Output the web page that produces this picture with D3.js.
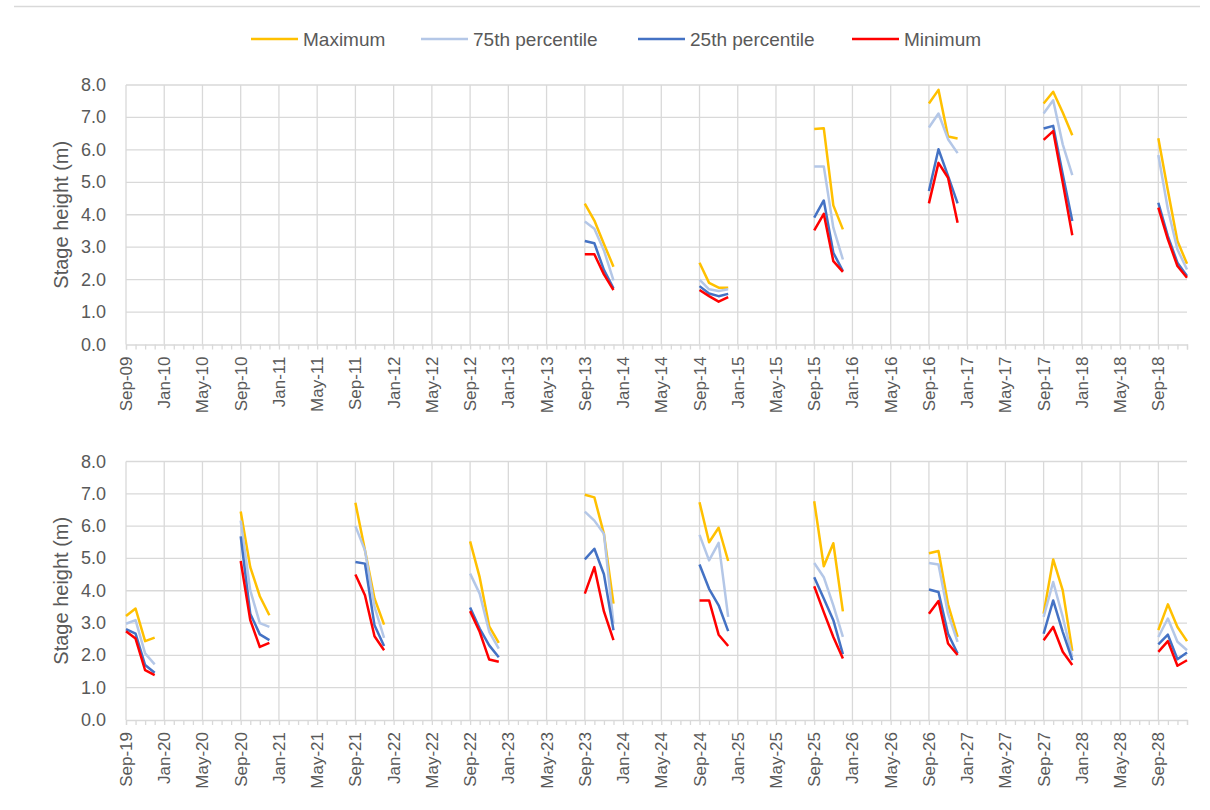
<!DOCTYPE html>
<html>
<head>
<meta charset="utf-8">
<script src="https://cdn.jsdelivr.net/npm/d3@7"></script>
<style>
  body { margin: 0; background: #fff; }
  text { font-family: "Liberation Sans", Arial, sans-serif; fill: #595959; }
</style>
</head>
<body>
<div class="flex-container"></div>
<script>
var width = 1210;
var height = 810;

// season start years, each season has Sep, Oct, Nov, Dec values
var seasons = [2013, 2014, 2015, 2016, 2017, 2018, 2019, 2020,
               2021, 2022, 2023, 2024, 2025, 2026, 2027, 2028];

var maximum = [
  [4.34, 3.82, 3.10, 2.40], [2.52, 1.90, 1.75, 1.75], [6.64, 6.67, 4.29, 3.55],
  [7.43, 7.85, 6.41, 6.35], [7.43, 7.79, 7.15, 6.45], [6.36, 4.75, 3.19, 2.49],
  [3.22, 3.45, 2.44, 2.55], [6.45, 4.73, 3.83, 3.24], [6.72, 5.25, 3.76, 2.95],
  [5.53, 4.42, 2.90, 2.39], [6.97, 6.89, 5.76, 3.60], [6.74, 5.50, 5.95, 4.92],
  [6.77, 4.76, 5.47, 3.36], [5.16, 5.23, 3.58, 2.57], [3.29, 4.97, 4.01, 2.14],
  [2.78, 3.58, 2.88, 2.44]
];

var percentile75 = [
  [3.79, 3.57, 2.90, 1.98], [2.00, 1.70, 1.65, 1.70], [5.49, 5.49, 3.60, 2.62],
  [6.69, 7.12, 6.33, 5.90], [7.12, 7.53, 6.17, 5.22], [5.84, 4.17, 2.93, 2.31],
  [2.98, 3.09, 2.06, 1.72], [6.17, 4.01, 3.00, 2.88], [6.00, 5.25, 3.50, 2.54],
  [4.53, 3.91, 2.73, 2.21], [6.45, 6.17, 5.76, 2.98], [5.73, 4.94, 5.48, 3.19],
  [4.86, 4.42, 3.55, 2.57], [4.86, 4.81, 3.29, 2.42], [3.19, 4.27, 3.19, 1.95],
  [2.57, 3.14, 2.42, 2.16]
];

var percentile25 = [
  [3.19, 3.12, 2.30, 1.73], [1.80, 1.57, 1.49, 1.56], [3.91, 4.44, 2.83, 2.26],
  [4.73, 6.02, 5.20, 4.35], [6.66, 6.74, 5.25, 3.81], [4.37, 3.34, 2.52, 2.11],
  [2.81, 2.67, 1.70, 1.46], [5.68, 3.29, 2.65, 2.47], [4.89, 4.84, 2.93, 2.29],
  [3.48, 2.83, 2.31, 1.94], [4.97, 5.30, 4.51, 2.78], [4.81, 4.06, 3.55, 2.75],
  [4.42, 3.76, 3.09, 2.04], [4.04, 3.96, 2.67, 2.06], [2.67, 3.70, 2.73, 1.85],
  [2.34, 2.64, 1.88, 2.09]
];

var minimum = [
  [2.78, 2.78, 2.16, 1.68], [1.68, 1.49, 1.32, 1.46], [3.52, 4.03, 2.57, 2.24],
  [4.35, 5.60, 5.14, 3.75], [6.31, 6.58, 4.99, 3.37], [4.22, 3.24, 2.42, 2.06],
  [2.75, 2.52, 1.54, 1.39], [4.92, 3.09, 2.26, 2.39], [4.50, 3.86, 2.59, 2.16],
  [3.37, 2.73, 1.87, 1.80], [3.91, 4.73, 3.36, 2.47], [3.70, 3.70, 2.64, 2.29],
  [4.14, 3.34, 2.57, 1.90], [3.29, 3.68, 2.37, 2.01], [2.47, 2.88, 2.11, 1.70],
  [2.11, 2.44, 1.68, 1.85]
];

var yTicks = [0, 1, 2, 3, 4, 5, 6, 7, 8];

var series = [
  { name: "Maximum", values: maximum, color: "#FFC000" },
  { name: "75th percentile", values: percentile75, color: "#B4C7E7" },
  { name: "25th percentile", values: percentile25, color: "#4472C4" },
  { name: "Minimum", values: minimum, color: "#FF0000" }
];

var panels = [
  { start: 2009, top: 85, bottom: 344.5 },
  { start: 2019, top: 461.5, bottom: 720 }
];

var plotLeft = 126;
var plotRight = 1187;
var gridColor = "#d9d9d9";
var formatMonth = d3.timeFormat("%b-%y");

var svg = d3.select(".flex-container")
              .append("svg")
              .attr("width", width)
              .attr("height", height);

// faint frame line at the top
svg.append("line")
    .attr("x1", 14).attr("x2", 1200)
    .attr("y1", 6.5).attr("y2", 6.5)
    .attr("stroke", gridColor)
    .attr("stroke-width", 1.5);

panels.forEach(function(p) {

  var months = d3.timeMonth.range(new Date(p.start, 8, 1), new Date(p.start + 10, 0, 1));

  var scaleX = d3.scaleLinear()
                  .domain([0, months.length - 1])
                  .range([plotLeft, plotRight]);

  var scaleY = d3.scaleLinear()
                  .domain([0, 8])
                  .range([p.bottom, p.top]);

  var g = svg.append("g");

  // horizontal gridlines
  g.selectAll(".hgrid")
    .data(yTicks.slice(1))
    .enter()
    .append("line")
    .attr("x1", plotLeft)
    .attr("x2", plotRight)
    .attr("y1", function(d) { return scaleY(d) })
    .attr("y2", function(d) { return scaleY(d) })
    .attr("stroke", gridColor)
    .attr("stroke-width", 1.3);

  var majorIdx = d3.range(0, months.length, 4);

  // vertical gridlines at labelled months
  g.selectAll(".vgrid")
    .data(majorIdx)
    .enter()
    .append("line")
    .attr("x1", function(d) { return scaleX(d) })
    .attr("x2", function(d) { return scaleX(d) })
    .attr("y1", p.top)
    .attr("y2", p.bottom)
    .attr("stroke", gridColor)
    .attr("stroke-width", 1.3);

  // x axis with monthly tick marks
  var xAxis = d3.axisBottom(scaleX)
                 .tickValues(d3.range(months.length))
                 .tickSize(5)
                 .tickFormat("");

  var ax = g.append("g")
            .attr("transform", "translate(0," + p.bottom + ")")
            .call(xAxis);
  ax.select(".domain").attr("stroke", gridColor).attr("stroke-width", 1.3);
  ax.selectAll(".tick line").attr("stroke", gridColor).attr("stroke-width", 1.3);

  g.selectAll(".xlabel")
    .data(majorIdx)
    .enter()
    .append("text")
    .attr("transform", function(d) {
      return "translate(" + (scaleX(d) + 6) + "," + (p.bottom + 12) + ") rotate(-90)";
    })
    .attr("text-anchor", "end")
    .style("font-size", "17px")
    .text(function(d) { return formatMonth(months[d]) });

  // y axis labels
  g.selectAll(".ylabel")
    .data(yTicks)
    .enter()
    .append("text")
    .attr("x", 106)
    .attr("y", function(d) { return scaleY(d) + 6 })
    .attr("text-anchor", "end")
    .style("font-size", "18px")
    .text(function(d) { return d.toFixed(1) });

  g.append("text")
    .attr("transform", "translate(68," + ((p.top + p.bottom) / 2) + ") rotate(-90)")
    .attr("text-anchor", "middle")
    .style("font-size", "20px")
    .text("Stage height (m)");

  var line = d3.line()
                .x(function(d) { return scaleX(d.i) })
                .y(function(d) { return scaleY(d.v) });

  series.forEach(function(s) {
    seasons.forEach(function(year, k) {
      if (year < p.start || year >= p.start + 10) return;
      var pts = s.values[k].map(function(v, m) {
        return { i: (year - p.start) * 12 + m, v: v };
      });
      g.append("path")
        .attr("d", line(pts))
        .attr("fill", "none")
        .attr("stroke", s.color)
        .attr("stroke-width", 2.5)
        .attr("stroke-linejoin", "round");
    });
  });
});

// legend
var legendX = [251, 421, 638, 852];

var legend = svg.selectAll(".legend")
                 .data(series)
                 .enter()
                 .append("g")
                 .attr("transform", function(d, i) { return "translate(" + legendX[i] + ",39)" });

legend.append("line")
      .attr("x1", 0).attr("x2", 47)
      .attr("stroke", function(d) { return d.color })
      .attr("stroke-width", 2.5);

legend.append("text")
      .attr("x", 52)
      .attr("y", 7)
      .style("font-size", "19px")
      .text(function(d) { return d.name });
</script>
</body>
</html>
